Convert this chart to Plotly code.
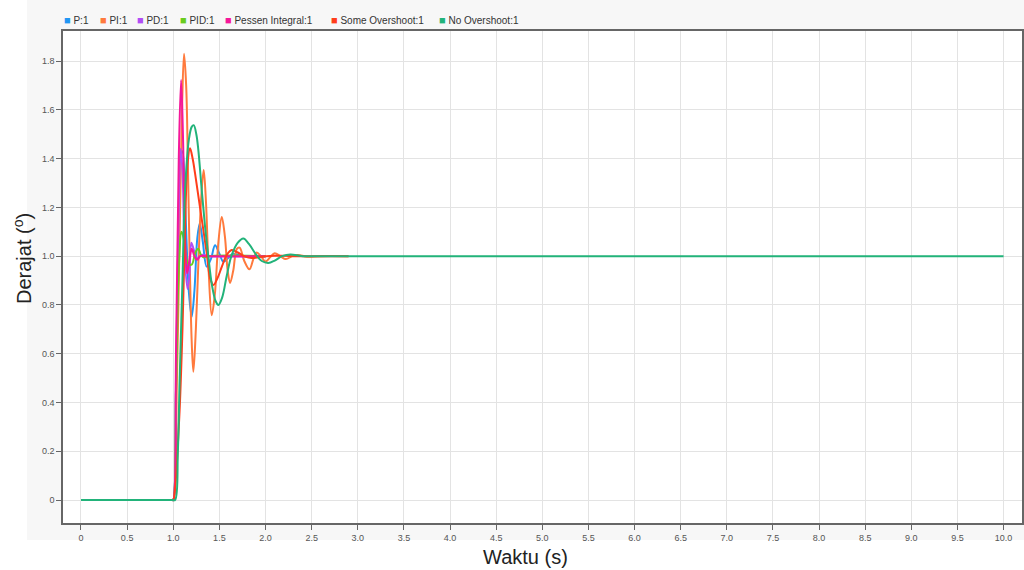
import plotly.graph_objects as go

# ---------------- data ----------------
series_names = ["P:1", "PI:1", "PD:1", "PID:1", "Pessen Integral:1",
                "Some Overshoot:1", "No Overshoot:1"]
series_colors = ["#2196f3", "#ff7a3d", "#b14df5", "#69cc1e", "#f5179a",
                 "#ff3d1a", "#22b37a"]

p_t = [0, 0.99, 1.0, 1.03, 1.06, 1.085, 1.1, 1.13, 1.17, 1.2, 1.23, 1.26, 1.287,
       1.32, 1.363, 1.41, 1.453, 1.5, 1.544, 1.6, 1.65, 1.75, 2.0]
p_y = [0, 0, 0, 0.45, 1.05, 1.42, 1.43, 1.2, 0.85, 0.752, 0.86, 1.07, 1.134,
       1.06, 0.957, 0.99, 1.045, 1.01, 0.977, 0.995, 1.01, 1.0, 1.0]

pi_t = [0, 0.99, 1.0, 1.04, 1.07, 1.095, 1.117, 1.14, 1.16, 1.18, 1.2, 1.218,
        1.245, 1.275, 1.305, 1.33, 1.355, 1.385, 1.417, 1.45, 1.49, 1.526, 1.56,
        1.59, 1.616, 1.65, 1.69, 1.72, 1.77, 1.826, 1.87, 1.905, 1.95, 2.0, 2.05,
        2.1, 2.16, 2.22, 2.29, 2.35, 2.45, 2.6, 2.9]
pi_y = [0, 0, 0, 0.5, 1.1, 1.6, 1.83, 1.7, 1.35, 0.95, 0.65, 0.526,
        0.7, 1.0, 1.25, 1.353, 1.22, 0.93, 0.758, 0.84, 1.06, 1.16, 1.08,
        0.94, 0.89, 0.94, 1.03, 1.035, 0.98, 0.946, 0.99, 1.015, 1.0, 0.978, 0.995,
        1.012, 1.0, 0.988, 1.0, 1.005, 0.998, 1.0, 1.0]

pd_t = [0, 0.99, 1.0, 1.03, 1.06, 1.08, 1.1, 1.125, 1.155, 1.175, 1.196, 1.22,
        1.25, 1.28, 1.31, 1.4, 2.0]
pd_y = [0, 0, 0, 0.5, 1.2, 1.44, 1.35, 1.0, 0.865, 0.92, 1.055, 1.03,
        0.99, 0.995, 1.005, 1.0, 1.0]

pid_t = [0, 0.99, 1.0, 1.03, 1.06, 1.09, 1.12, 1.16, 1.2, 1.24, 1.272, 1.3,
         1.33, 1.38, 2.0]
pid_y = [0, 0, 0, 0.45, 0.95, 1.1, 1.06, 0.97, 0.965, 1.015, 1.03, 1.005,
         0.995, 1.0, 1.0]

pessen_t = [0, 0.99, 1.0, 1.03, 1.06, 1.085, 1.105, 1.13, 1.15, 1.17, 1.2, 1.23,
            1.26, 1.29, 1.35, 2.0]
pessen_y = [0, 0, 0, 0.6, 1.4, 1.722, 1.5, 1.05, 0.93, 0.97, 1.03, 1.0,
            0.985, 1.0, 1.0, 1.0]

some_t = [0, 0.99, 1.0, 1.06, 1.1, 1.13, 1.155, 1.182, 1.21, 1.236, 1.29, 1.36,
          1.4, 1.435, 1.48, 1.53, 1.58, 1.634, 1.7, 1.78, 1.85, 1.95, 2.1, 2.3, 2.9]
some_y = [0, 0, 0, 0.3, 0.7, 1.15, 1.38, 1.442, 1.4, 1.34, 1.2, 1.02,
          0.91, 0.882, 0.91, 0.96, 1.005, 1.025, 1.015, 0.998, 0.992, 0.997, 1.002, 1.0, 1.0]

no_t = [0, 0.99, 1.02, 1.05, 1.07, 1.1, 1.128, 1.17, 1.2, 1.222, 1.25, 1.272,
        1.309, 1.345, 1.38, 1.42, 1.46, 1.489, 1.53, 1.58, 1.63, 1.7, 1.76, 1.82,
        1.9, 1.96, 2.03, 2.1, 2.18, 2.27, 2.4, 2.6, 10.0]
no_y = [0, 0, 0, 0.2, 0.5, 0.9, 1.27, 1.48, 1.53, 1.537, 1.5, 1.435,
        1.27, 1.12, 1.0, 0.88, 0.815, 0.80, 0.83, 0.92, 1.0, 1.055, 1.072, 1.05,
        1.005, 0.98, 0.972, 0.982, 1.0, 1.007, 1.0, 1.0, 1.0]

x_tickvals = [0, 0.5, 1, 1.5, 2, 2.5, 3, 3.5, 4, 4.5, 5, 5.5, 6, 6.5, 7, 7.5,
              8, 8.5, 9, 9.5, 10]
x_ticktext = ["0", "0.5", "1.0", "1.5", "2.0", "2.5", "3.0", "3.5", "4.0", "4.5",
              "5.0", "5.5", "6.0", "6.5", "7.0", "7.5", "8.0", "8.5", "9.0", "9.5", "10.0"]
y_tickvals = [0, 0.2, 0.4, 0.6, 0.8, 1.0, 1.2, 1.4, 1.6, 1.8]
y_ticktext = ["0", "0.2", "0.4", "0.6", "0.8", "1.0", "1.2", "1.4", "1.6", "1.8"]

x_title = "Waktu (s)"
y_title = "Derajat (<sup>o</sup>)"

# ---------------- figure ----------------
all_t = [p_t, pi_t, pd_t, pid_t, pessen_t, some_t, no_t]
all_y = [p_y, pi_y, pd_y, pid_y, pessen_y, some_y, no_y]

FONT = "Liberation Sans, Arial, sans-serif"
W, H = 1024, 570
L, R, T, B = 63, 2, 31, 47
PW, PH = W - L - R, H - T - B


def px_to_paper_x(px):
    return (px - L) / PW


def px_to_paper_y(py):
    return (H - B - py) / PH


fig = go.Figure()
for name, color, t, y in zip(series_names, series_colors, all_t, all_y):
    fig.add_trace(go.Scatter(
        x=t, y=y, name=name, mode="lines",
        line=dict(color=color, width=2, shape="spline", smoothing=1.0),
        showlegend=False, hoverinfo="x+y+name",
    ))

# background panels
shapes = [
    dict(type="rect", xref="paper", yref="paper", layer="below",
         x0=px_to_paper_x(27), x1=px_to_paper_x(1024),
         y0=px_to_paper_y(540), y1=px_to_paper_y(0),
         fillcolor="#f7f7f7", line=dict(width=0)),
    dict(type="rect", xref="paper", yref="paper", layer="below",
         x0=0, x1=1, y0=0, y1=1, fillcolor="#ffffff", line=dict(width=0)),
]

annotations = []
legend_px = [62, 98, 135, 178, 223, 329, 437]
for name, color, lx in zip(series_names, series_colors, legend_px):
    annotations.append(dict(
        xref="paper", yref="paper", x=px_to_paper_x(lx), y=px_to_paper_y(20),
        xanchor="left", yanchor="middle", showarrow=False,
        text='<span style="color:%s;font-size:11px">■</span> %s' % (color, name),
        font=dict(family=FONT, size=10, color="#333333"),
    ))

annotations.append(dict(
    xref="paper", yref="paper", x=px_to_paper_x(525), y=px_to_paper_y(557),
    xanchor="center", yanchor="middle", showarrow=False, text=x_title,
    font=dict(family=FONT, size=20, color="#222222"),
))
annotations.append(dict(
    xref="paper", yref="paper", x=px_to_paper_x(22), y=px_to_paper_y(259),
    xanchor="center", yanchor="middle", showarrow=False, text=y_title,
    textangle=-90, font=dict(family=FONT, size=20, color="#222222"),
))

axis_common = dict(
    showline=True, mirror=True, linecolor="#666666", linewidth=1.5,
    showgrid=True, gridcolor="#e3e3e3", gridwidth=1,
    ticks="outside", ticklen=5, tickwidth=1, tickcolor="#666666",
    tickfont=dict(family=FONT, size=9, color="#555555"),
    zeroline=False, automargin=False,
)

fig.update_layout(
    width=W, height=H,
    margin=dict(l=L, r=R, t=T, b=B, pad=0),
    paper_bgcolor="#ffffff", plot_bgcolor="#ffffff",
    showlegend=False,
    shapes=shapes, annotations=annotations,
    xaxis=dict(range=[-0.195, 10.2], tickmode="array", tickvals=x_tickvals,
               ticktext=x_ticktext, **axis_common),
    yaxis=dict(range=[-0.094, 1.923], tickmode="array", tickvals=y_tickvals,
               ticktext=y_ticktext, **axis_common),
)

fig.write_html("out.html")
